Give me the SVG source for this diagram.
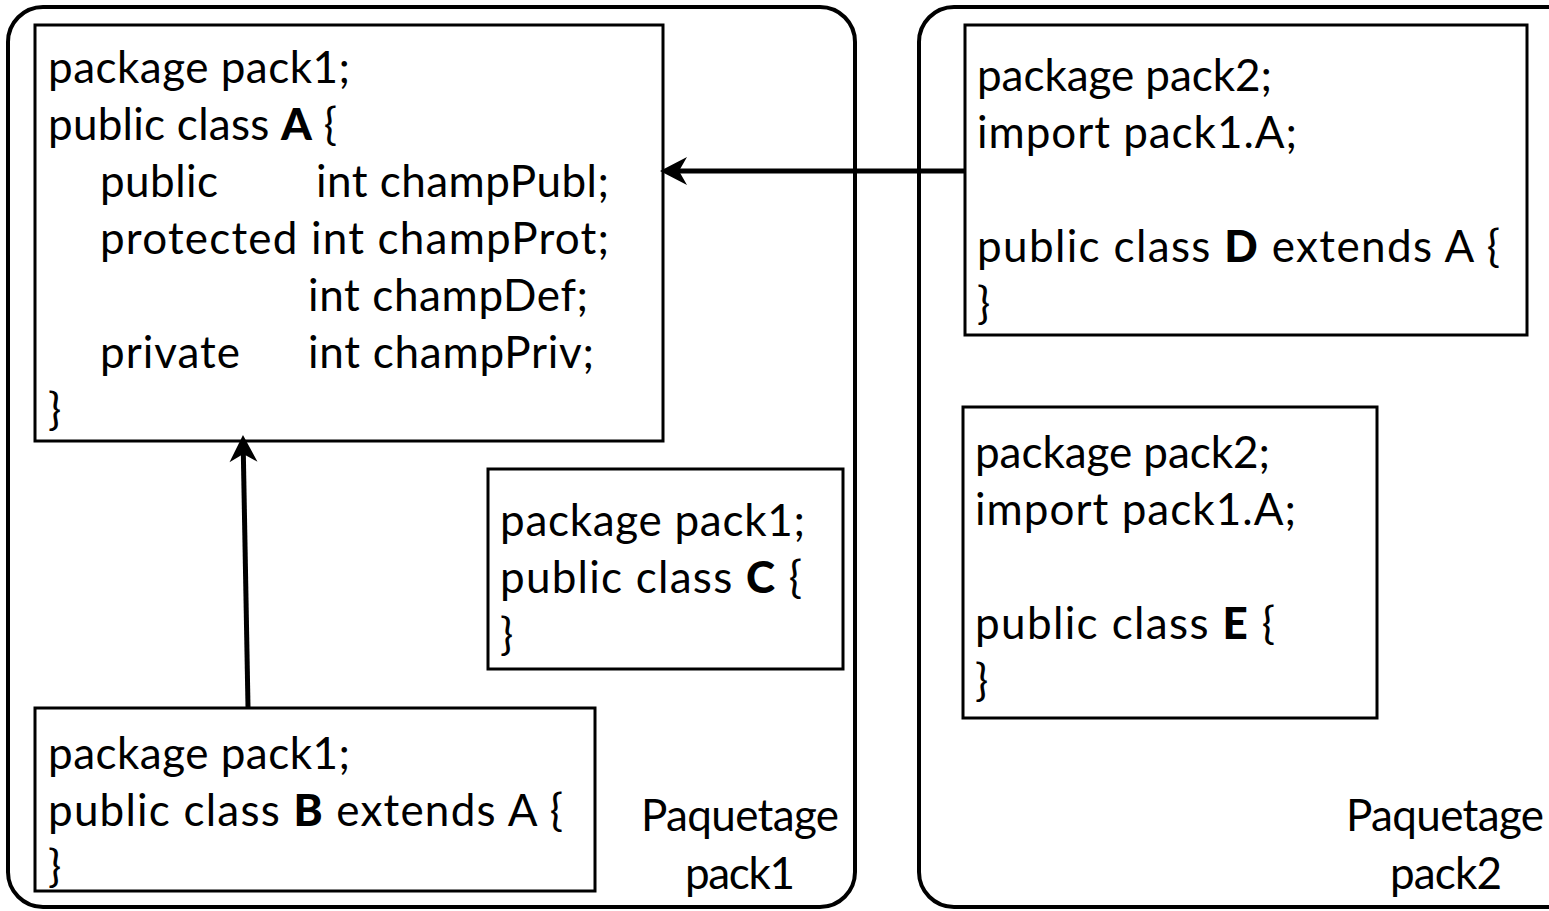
<svg xmlns="http://www.w3.org/2000/svg" width="1549" height="911" viewBox="0 0 1549 911">
  <style>
    .pkg { fill: #fff; stroke: #000; stroke-width: 4; }
    .box { fill: #fff; stroke: #000; stroke-width: 3; }
    .t { font-family: Lato, "Liberation Sans", sans-serif; font-size: 44px; fill: #000; }
    .b { font-weight: 900; }
    .lbl { text-anchor: middle; }
    .conn { stroke: #000; stroke-width: 5; fill: none; marker-end: url(#arr); }
  </style>
  <defs>
    <marker id="arr" markerUnits="userSpaceOnUse" markerWidth="28" markerHeight="28" refX="10" refY="14" orient="auto" overflow="visible">
      <path d="M0,0 L27,14 L0,28 L8,14 Z" fill="#000"/>
    </marker>
  </defs>
  <rect width="1549" height="911" fill="#fff"/>

  <g id="pack1">
    <rect class="pkg" x="8" y="7" width="847" height="900" rx="35" ry="35"/>
    <text class="t lbl" x="740" y="831" textLength="198" lengthAdjust="spacing">Paquetage</text>
    <text class="t lbl" x="740" y="889" textLength="110" lengthAdjust="spacing">pack1</text>
  </g>
  <g id="pack2">
    <rect class="pkg" x="919" y="7" width="663" height="900" rx="35" ry="35"/>
    <text class="t lbl" x="1445" y="831" textLength="198" lengthAdjust="spacing">Paquetage</text>
    <text class="t lbl" x="1446" y="889" textLength="112" lengthAdjust="spacing">pack2</text>
  </g>

  <g id="classA">
    <rect class="box" x="35" y="25" width="628" height="416"/>
    <text class="t" x="48" y="83" textLength="302" lengthAdjust="spacing">package pack1;</text>
    <text class="t" x="48" y="140" textLength="289" lengthAdjust="spacing">public class <tspan class="b">A</tspan> {</text>
    <text class="t" x="100" y="197" textLength="118" lengthAdjust="spacing">public</text>
    <text class="t" x="316" y="197" textLength="293" lengthAdjust="spacing">int champPubl;</text>
    <text class="t" x="100" y="254" textLength="509" lengthAdjust="spacing">protected int champProt;</text>
    <text class="t" x="308" y="311" textLength="280" lengthAdjust="spacing">int champDef;</text>
    <text class="t" x="100" y="368" textLength="140" lengthAdjust="spacing">private</text>
    <text class="t" x="308" y="368" textLength="286" lengthAdjust="spacing">int champPriv;</text>
    <text class="t" x="48" y="425">}</text>
  </g>

  <g id="classB">
    <rect class="box" x="35" y="708" width="560" height="183"/>
    <text class="t" x="48" y="769" textLength="302" lengthAdjust="spacing">package pack1;</text>
    <text class="t" x="48" y="826" textLength="515" lengthAdjust="spacing">public class <tspan class="b">B</tspan> extends A {</text>
    <text class="t" x="48" y="882">}</text>
  </g>

  <g id="classC">
    <rect class="box" x="488" y="469" width="355" height="200"/>
    <text class="t" x="500" y="536" textLength="305" lengthAdjust="spacing">package pack1;</text>
    <text class="t" x="500" y="593" textLength="302" lengthAdjust="spacing">public class <tspan class="b">C</tspan> {</text>
    <text class="t" x="500" y="650">}</text>
  </g>

  <g id="classD">
    <rect class="box" x="965" y="25" width="562" height="310"/>
    <text class="t" x="977" y="91" textLength="295" lengthAdjust="spacing">package pack2;</text>
    <text class="t" x="977" y="148" textLength="320" lengthAdjust="spacing">import pack1.A;</text>
    <text class="t" x="977" y="262" textLength="523" lengthAdjust="spacing">public class <tspan class="b">D</tspan> extends A {</text>
    <text class="t" x="977" y="319">}</text>
  </g>

  <g id="classE">
    <rect class="box" x="963" y="407" width="414" height="311"/>
    <text class="t" x="975" y="468" textLength="295" lengthAdjust="spacing">package pack2;</text>
    <text class="t" x="975" y="525" textLength="321" lengthAdjust="spacing">import pack1.A;</text>
    <text class="t" x="975" y="639" textLength="300" lengthAdjust="spacing">public class <tspan class="b">E</tspan> {</text>
    <text class="t" x="975" y="696">}</text>
  </g>

  <g id="connectors">
    <line class="conn" x1="965" y1="171" x2="677" y2="171"/>
    <line class="conn" x1="248" y1="707" x2="243.3" y2="452"/>
  </g>
</svg>
